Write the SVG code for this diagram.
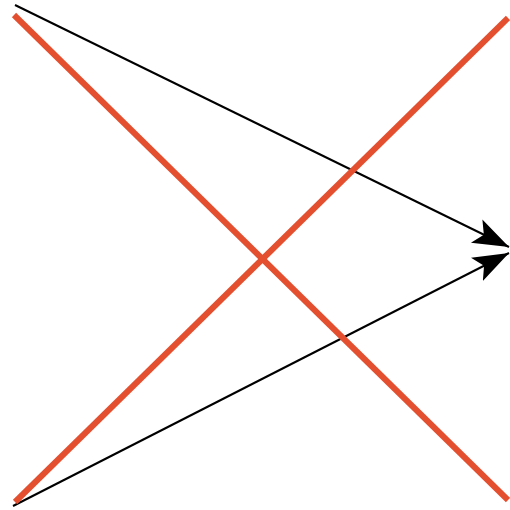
<svg xmlns="http://www.w3.org/2000/svg" width="510" height="510" viewBox="0 0 510 510">
<style>
.arrow{stroke:#000;stroke-width:2;fill:none}
.cross{stroke:#e34f2f;stroke-width:6;stroke-linecap:butt;fill:none}
</style>
<defs>
<marker id="ah" markerUnits="userSpaceOnUse" markerWidth="38" markerHeight="30" refX="36" refY="15" orient="auto">
<path d="M0,2 L36,15 L0,28 L8,15 Z" fill="#000"/>
</marker>
</defs>
<rect width="510" height="510" fill="#fff"/>
<g id="connectors">
<line class="arrow" x1="15" y1="5" x2="509" y2="247" marker-end="url(#ah)"/>
<line class="arrow" x1="13" y1="506" x2="509" y2="253" marker-end="url(#ah)"/>
</g>
<g id="cross">
<line class="cross" x1="14" y1="15" x2="508" y2="500"/>
<line class="cross" x1="15" y1="502" x2="508" y2="18"/>
</g>
</svg>
